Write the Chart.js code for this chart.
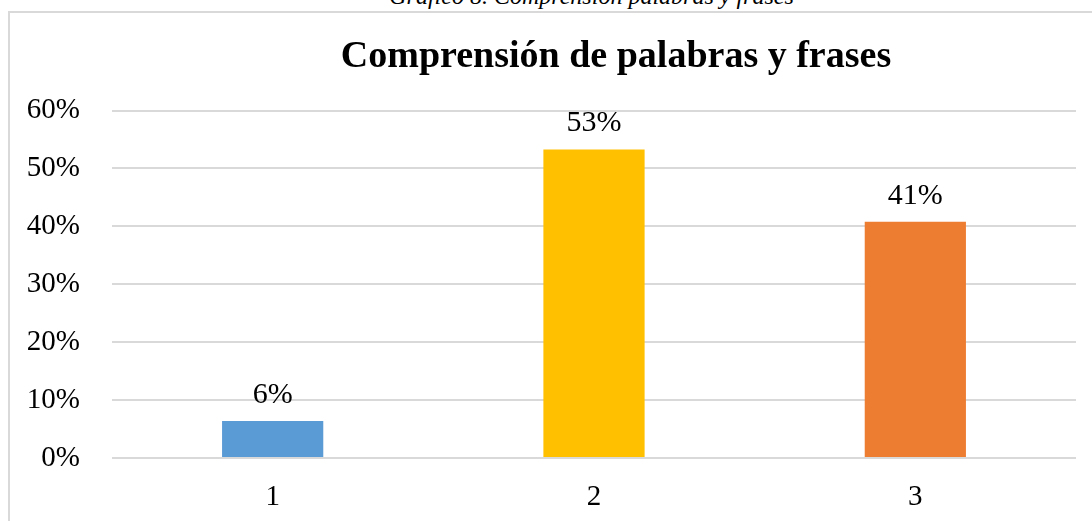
<!DOCTYPE html>
<html>
<head>
<meta charset="utf-8">
<script src="https://cdn.jsdelivr.net/npm/chart.js@4/dist/chart.umd.min.js"></script>
<style>
  html, body { margin: 0; padding: 0; background: #fff; }
  #wrap { position: relative; width: 1092px; height: 521px; overflow: hidden; background: #fff; }
  #caption { position: absolute; left: 0; width: 1183px; top: -16px; text-align: center;
    font-family: "Liberation Serif", "Times New Roman", serif; font-style: italic; font-size: 24px; line-height: 24px; color: #000; white-space: nowrap; }
  #box { position: absolute; left: 8px; top: 11px; width: 2000px; height: 1000px; border: 2px solid #D9D9D9; box-sizing: border-box; }
  #c { position: absolute; left: 0; top: 0; }
</style>
</head>
<body>
<div id="wrap">
  <div id="caption">Gráfico 8. Comprensión palabras y frases</div>
  <div id="box"></div>
  <canvas id="c" width="1232" height="521"></canvas>
</div>
<script>
const categories = ["1", "2", "3"];
const values = [6.4, 53.3, 40.8];
const valueLabels = ["6%", "53%", "41%"];
const barColors = ["#5B9BD5", "#FFC000", "#ED7D31"];
const yTicks = [0, 10, 20, 30, 40, 50, 60];
const chartTitle = "Comprensión de palabras y frases";

const serif = '"Liberation Serif", "Times New Roman", serif';

const labelPlugin = {
  id: 'valueLabels',
  afterLayout(chart) {
    const t = chart.titleBlock;
    if (t) { t.left = 0; t.right = chart.width; t.width = chart.width; }
  },
  afterDatasetsDraw(chart) {
    const ctx = chart.ctx;
    const meta = chart.getDatasetMeta(0);
    ctx.save();
    ctx.font = '30px ' + serif;
    ctx.fillStyle = '#000';
    ctx.textAlign = 'center';
    ctx.textBaseline = 'alphabetic';
    meta.data.forEach((bar, i) => {
      ctx.fillText(valueLabels[i], bar.x, bar.y - 18);
    });
    ctx.restore();
  }
};

new Chart(document.getElementById('c'), {
  type: 'bar',
  data: {
    labels: categories,
    datasets: [{
      data: values,
      backgroundColor: barColors,
      borderWidth: 0,
      categoryPercentage: 1,
      barPercentage: 0.315
    }]
  },
  options: {
    responsive: false,
    animation: false,
    devicePixelRatio: 1,
    layout: { padding: { left: 0, right: 156, top: 0, bottom: 0 } },
    plugins: {
      legend: { display: false },
      tooltip: { enabled: false },
      title: {
        display: true,
        text: chartTitle,
        color: '#000',
        font: { family: serif, size: 38, weight: 'bold', lineHeight: 1.2 },
        padding: { top: 34, bottom: 31 }
      }
    },
    scales: {
      x: {
        grid: { display: false },
        border: { display: false },
        ticks: { color: '#000', font: { family: serif, size: 29 }, padding: 14 },
        afterFit(s) { s.height = 63; }
      },
      y: {
        min: 0, max: 60,
        afterBuildTicks(s) { s.ticks = yTicks.map(v => ({ value: v })); },
        grid: { color: '#D9D9D9', lineWidth: 2, drawTicks: false },
        border: { display: false },
        ticks: { color: '#000', font: { family: serif, size: 29 }, padding: 32, callback: v => v + '%' },
        afterFit(s) { s.width = 112; }
      }
    }
  },
  plugins: [labelPlugin]
});
</script>
</body>
</html>
